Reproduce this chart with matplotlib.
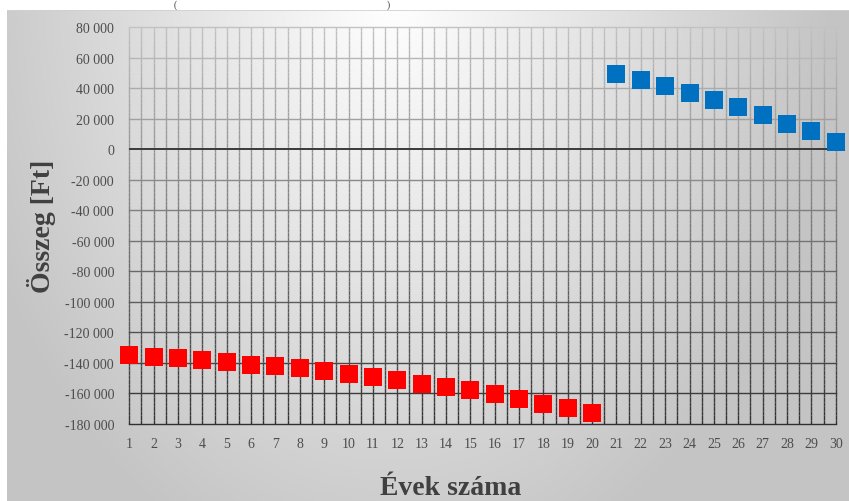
import numpy as np
import matplotlib
matplotlib.use("Agg")
import matplotlib.pyplot as plt
from matplotlib.collections import LineCollection
from matplotlib.ticker import FuncFormatter

# ---- data ----
years_neg = list(range(1, 21))
values_neg = [-134500, -135800, -136500, -137800, -139100, -141100, -141700, -143000,
              -145000, -147000, -148900, -151500, -153500, -155500, -158000, -160600,
              -163900, -167200, -169800, -173100]
years_pos = list(range(21, 31))
values_pos = [48900, 45000, 41100, 36500, 31900, 27300, 22100, 16800, 11600, 5000]
x_ticks = list(range(1, 31))
y_ticks = list(range(-180000, 80001, 20000))

W, H = 849, 502
fig = plt.figure(figsize=(W / 100, H / 100), dpi=100)
fig.patch.set_facecolor("white")

# ---- background gradient of chart area ----
bx0, by0 = 7, 11
bg_ax = fig.add_axes([bx0 / W, 0, 1 - bx0 / W, 1 - by0 / H], zorder=-5)
xs = np.arange(bx0, W)
ys = np.arange(by0, H)
XX, YY = np.meshgrid(xs, ys)
r = np.sqrt(((XX - 390) / 440.0) ** 2 + (YY / 600.0) ** 2)
v = 1.0 - 0.23 * np.clip(r, 0, 1)
img = np.dstack([v, v, v])
bg_ax.imshow(img, aspect="auto", extent=[0, 1, 0, 1], interpolation="bilinear")
bg_ax.set_xlim(0, 1)
bg_ax.set_ylim(0, 1)
bg_ax.axis("off")
bg_ax.axhline(1, color="#d0d0d0", lw=1.2)

# ---- main axes ----
left, right, top, bottom = 129.3, 835.7, 28, 425
ax = fig.add_axes([left / W, 1 - bottom / H, (right - left) / W, (bottom - top) / H])
ax.set_facecolor("none")
ymin, ymax = -180000, 80000
ax.set_xlim(1, 30)
ax.set_ylim(ymin, ymax)

def grid_color(yv):
    t = (yv - ymin) / (ymax - ymin)
    g = 0.19 + 0.57 * t
    return (g, g, g)

# vertical gridlines with gradient
segs, cols = [], []
ylevels = np.linspace(ymin, ymax, 90)
for xv in np.arange(1, 30.01, 0.5):
    for y0, y1 in zip(ylevels[:-1], ylevels[1:]):
        segs.append([(xv, y0), (xv, y1)])
        cols.append(grid_color((y0 + y1) / 2))
ax.add_collection(LineCollection(segs, colors=cols, linewidths=1.0, zorder=1,
                                 clip_on=False))
# horizontal gridlines
for yv in y_ticks:
    if yv == 0:
        continue
    ax.axhline(yv, color=grid_color(yv), lw=1.0, zorder=1, clip_on=False)
ax.axhline(0, color="#3a3a3a", lw=1.4, zorder=2)

for s in ax.spines.values():
    s.set_visible(False)

ax.plot(years_neg, values_neg, linestyle="none", marker="s", markersize=12.5,
        markeredgewidth=0, color="#FF0000", zorder=5, clip_on=False)
ax.plot(years_pos, values_pos, linestyle="none", marker="s", markersize=12.5,
        markeredgewidth=0, color="#0070C0", zorder=5, clip_on=False)

ax.set_xticks(x_ticks)
ax.set_yticks(y_ticks)
ax.yaxis.set_major_formatter(FuncFormatter(lambda v, p: f"{int(v):,}".replace(",", " ")))
ax.tick_params(axis="both", length=0, labelsize=10, labelcolor="#4d4d4d")
ax.tick_params(axis="y", pad=11)
ax.tick_params(axis="x", pad=9)
for lbl in ax.get_xticklabels() + ax.get_yticklabels():
    lbl.set_family("Liberation Serif")

# axis titles
fig.text(41 / W, 1 - 226 / H, "Összeg [Ft]", rotation=90, ha="center", va="center",
         fontsize=20, fontweight="bold", family="Liberation Serif", color="#404040")
fig.text(451 / W, 1 - 495 / H, "Évek száma", ha="center", va="baseline",
         fontsize=20, fontweight="bold", family="Liberation Serif", color="#404040")

# remains of the chart title above the chart area (only parentheses visible)
fig.text(175 / W, 1 - 0.5 / H, "(", ha="center", va="top", fontsize=7,
         family="Liberation Serif", color="#404040")
fig.text(388 / W, 1 - 0.5 / H, ")", ha="center", va="top", fontsize=7,
         family="Liberation Serif", color="#404040")

fig.savefig("out.png", dpi=100, facecolor="white")
